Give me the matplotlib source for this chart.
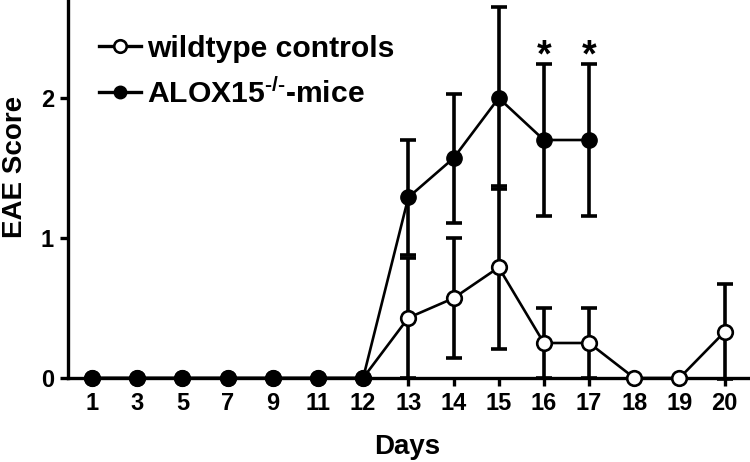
import matplotlib
matplotlib.use("Agg")
import matplotlib.pyplot as plt
import numpy as np

plt.rcParams["font.family"] = ["Liberation Sans", "DejaVu Sans"]
plt.rcParams["font.weight"] = "bold"
plt.rcParams["mathtext.fontset"] = "custom"
plt.rcParams["mathtext.rm"] = "Liberation Sans:bold"
plt.rcParams["mathtext.it"] = "Liberation Sans:bold"
plt.rcParams["mathtext.bf"] = "Liberation Sans:bold"
plt.rcParams["mathtext.default"] = "rm"

days = ["1", "3", "5", "7", "9", "11", "12", "13", "14", "15", "16", "17", "18", "19", "20"]

# ALOX15-/- mice (measured up to day 17)
alox_days = ["1", "3", "5", "7", "9", "11", "12", "13", "14", "15", "16", "17"]
alox_mean = [0, 0, 0, 0, 0, 0, 0, 1.29, 1.57, 2.00, 1.70, 1.70]
alox_err = [0, 0, 0, 0, 0, 0, 0, 0.41, 0.46, 0.65, 0.54, 0.54]

# wildtype controls
wt_mean = [0, 0, 0, 0, 0, 0, 0, 0.43, 0.57, 0.79, 0.25, 0.25, 0, 0, 0.33]
wt_err = [0, 0, 0, 0, 0, 0, 0, 0.43, 0.43, 0.58, 0.25, 0.25, 0, 0, 0.34]

star_days = ["16", "17"]
star_y = 2.30


def main():
    fig = plt.figure(figsize=(7.5, 4.62), dpi=100)
    ax = fig.add_axes([68 / 750, 1 - 378 / 462, 1 - 68 / 750, 378 / 462])

    x = np.arange(len(days))
    pos = {d: i for i, d in enumerate(days)}
    xa = np.array([pos[d] for d in alox_days])

    wt_m = np.array(wt_mean)
    wt_e = np.array(wt_err)
    al_m = np.array(alox_mean)
    al_e = np.array(alox_err)

    # error bars
    sel = wt_e > 0
    ax.errorbar(x[sel], wt_m[sel], yerr=wt_e[sel], fmt="none", ecolor="black",
                elinewidth=2.6, capsize=6, capthick=2.6, clip_on=False, zorder=2)
    sel = al_e > 0
    ax.errorbar(xa[sel], al_m[sel], yerr=al_e[sel], fmt="none", ecolor="black",
                elinewidth=2.6, capsize=6, capthick=2.6, clip_on=False, zorder=2)

    wt_line, = ax.plot(x, wt_m, "-o", color="black", lw=1.9, ms=10.5,
                       mfc="white", mec="black", mew=1.9, clip_on=False, zorder=3,
                       label="wildtype controls")
    al_line, = ax.plot(xa, al_m, "-o", color="black", lw=1.9, ms=11,
                       mfc="black", mec="black", clip_on=False, zorder=4,
                       label=r"ALOX15$^{\text{-/-}}$-mice")

    for d in star_days:
        ax.text(pos[d], star_y, "*", ha="center", va="center", fontsize=27,
                fontweight="bold")

    ax.set_xlim(-0.53, 14.56)
    ax.set_ylim(0, 2.7)
    ax.set_xticks(x)
    ax.set_xticklabels(days)
    ax.set_yticks([0, 1, 2])
    for s in ["top", "right"]:
        ax.spines[s].set_visible(False)
    for s in ["left", "bottom"]:
        ax.spines[s].set_linewidth(2.4)
    ax.tick_params(axis="both", direction="out", length=6, width=2.4,
                   labelsize=17, pad=4)

    leg = ax.legend(handles=[wt_line, al_line], loc="upper left",
                    bbox_to_anchor=(99 / 750, 1 - 35 / 462),
                    bbox_transform=fig.transFigure, frameon=False,
                    fontsize=21.7, handlelength=1.4, handletextpad=0.2,
                    labelspacing=0.5, borderpad=0, borderaxespad=0)
    for h in leg.legend_handles:
        h.set_markersize(9)
        h.set_linewidth(2.4)

    fig.text(407 / 750, 1 - 447 / 462, "Days", ha="center", va="center",
             fontsize=20, fontweight="bold")
    fig.text(15 / 750, 1 - 167 / 462, "EAE Score", ha="center", va="center",
             rotation=90, fontsize=20, fontweight="bold")

    fig.savefig("out.png", dpi=100)


if __name__ == "__main__":
    main()
